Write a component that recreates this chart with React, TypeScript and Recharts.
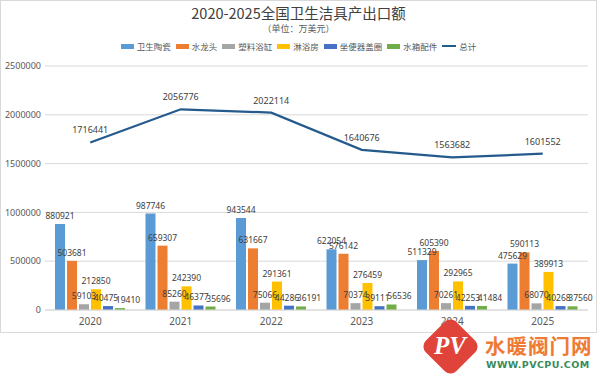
import React from 'react';
import { ComposedChart, Bar, Line, XAxis, YAxis, CartesianGrid, LabelList } from 'recharts';

// Values in 万美元
const years = ['2020', '2021', '2022', '2023', '2024', '2025'];
const ceramics = [880921, 987746, 943544, 622054, 511329, 475629];
const faucets = [503681, 659307, 631667, 576142, 605390, 590113];
const bathtubs = [59103, 85260, 75066, 70374, 70261, 68070];
const showers = [212850, 242390, 291361, 276459, 292965, 389913];
const seats = [40475, 46377, 44286, 39111, 42253, 40268];
const tankParts = [19410, 35696, 36191, 56536, 41484, 37560];
const totals = [1716441, 2056776, 2022114, 1640676, 1563682, 1601552];
const yTicks = [0, 500000, 1000000, 1500000, 2000000, 2500000];

const series = [
  { key: 'ceramics', name: '卫生陶瓷', color: '#5B9BD5', dx: 0 },
  { key: 'faucets', name: '水龙头', color: '#ED7D31', dx: 0 },
  { key: 'bathtubs', name: '塑料浴缸', color: '#A5A5A5', dx: 0 },
  { key: 'showers', name: '淋浴房', color: '#FFC000', dx: 0 },
  { key: 'seats', name: '坐便器盖圈', color: '#4472C4', dx: -2 },
  { key: 'tankParts', name: '水箱配件', color: '#70AD47', dx: 8 },
];
const lineColor = '#245A8C';

const data = years.map((year, i) => ({
  year,
  ceramics: ceramics[i],
  faucets: faucets[i],
  bathtubs: bathtubs[i],
  showers: showers[i],
  seats: seats[i],
  tankParts: tankParts[i],
  total: totals[i],
}));

const numFont = '"Liberation Sans Narrow", "Noto Sans", sans-serif';
const cjkFont = '"Noto Sans CJK SC", sans-serif';

// bar value label, nudged sideways a little like the Excel original
const barLabel = (dx: number) => (props: any) => {
  const { x, y, width, value } = props;
  return (
    <text
      x={Number(x) + Number(width) / 2 + dx}
      y={Number(y) - 5}
      textAnchor="middle"
      style={{ fontSize: 8.5, fill: '#404040', fontFamily: numFont }}
    >
      {value}
    </text>
  );
};

export default function App() {
  return (
    <div style={{ position: 'absolute', left: 0, top: 0, width: 600, height: 379, background: '#fff', overflow: 'hidden' }}>
      <div style={{ position: 'absolute', left: 0, top: 0, width: 597, height: 333, border: '1px solid #D9D9D9', boxSizing: 'border-box' }} />

      {/* title */}
      <div style={{ position: 'absolute', left: 0, top: 3, width: 597, textAlign: 'center', fontFamily: cjkFont, fontSize: 14.5, color: '#404040', lineHeight: '20px' }}>
        2020-2025全国卫生洁具产出口额
      </div>
      <div style={{ position: 'absolute', left: 0, top: 22, width: 597, textAlign: 'center', fontFamily: cjkFont, fontSize: 9, color: '#595959', lineHeight: '14px' }}>
        （单位：万美元）
      </div>

      {/* legend */}
      <div style={{ position: 'absolute', left: 0, top: 40, width: 597, display: 'flex', justifyContent: 'center', alignItems: 'center', fontFamily: cjkFont, fontSize: 8.5, color: '#595959', lineHeight: '12px' }}>
        {series.map((s) => (
          <div key={s.key} style={{ display: 'flex', alignItems: 'center', marginRight: 5 }}>
            <span style={{ display: 'inline-block', width: 13, height: 5, background: s.color, marginRight: 3 }} />
            {s.name}
          </div>
        ))}
        <div style={{ display: 'flex', alignItems: 'center' }}>
          <span style={{ display: 'inline-block', width: 14, height: 2, background: lineColor, marginRight: 3 }} />
          总计
        </div>
      </div>

      <div style={{ position: 'absolute', left: 0, top: 0 }}>
        <ComposedChart width={597} height={333} data={data} margin={{ top: 66, right: 9, bottom: 0, left: 0 }} barSize={10} barGap={2}>
          <CartesianGrid vertical={false} stroke="#D9D9D9" />
          <XAxis
            dataKey="year"
            axisLine={{ stroke: '#D9D9D9' }}
            tickLine={false}
            height={23}
            tick={{ fontSize: 10, fill: '#595959', fontFamily: numFont }}
          />
          <YAxis
            width={45}
            domain={[0, 2500000]}
            ticks={yTicks}
            axisLine={false}
            tickLine={false}
            tickSize={0}
            tickMargin={4}
            tick={{ fontSize: 9, fill: '#595959', fontFamily: numFont }}
          />
          {series.map((s) => (
            <Bar key={s.key} dataKey={s.key} name={s.name} fill={s.color} isAnimationActive={false}>
              <LabelList dataKey={s.key} content={barLabel(s.dx)} />
            </Bar>
          ))}
          <Line
            type="linear"
            dataKey="total"
            name="总计"
            stroke={lineColor}
            strokeWidth={2.25}
            dot={false}
            isAnimationActive={false}
          >
            <LabelList dataKey="total" position="top" offset={9} style={{ fontSize: 9, fill: '#404040', fontFamily: numFont }} />
          </Line>
        </ComposedChart>
      </div>

      {/* watermark */}
      <div style={{ position: 'absolute', left: 429, top: 325, width: 43, height: 43, background: '#E0433A', borderRadius: 8, transform: 'rotate(45deg)' }} />
      <div style={{ position: 'absolute', left: 426, top: 328, width: 48, textAlign: 'center', color: '#fff', fontFamily: '"Liberation Serif", serif', fontStyle: 'italic', fontWeight: 'bold', fontSize: 25, lineHeight: '36px' }}>
        PV
      </div>
      <div style={{ position: 'absolute', left: 485, top: 332, fontFamily: cjkFont, fontWeight: 'bold', fontSize: 20.5, color: '#EE7A33', letterSpacing: 1, lineHeight: '26px' }}>
        水暖阀门网
      </div>
      <div style={{ position: 'absolute', left: 486, top: 358, fontFamily: '"DejaVu Sans", sans-serif', fontWeight: 'bold', fontSize: 9.5, color: '#3A8A5A', letterSpacing: 0.4, lineHeight: '14px' }}>
        WWW.PVCPU.COM
      </div>
    </div>
  );
}
